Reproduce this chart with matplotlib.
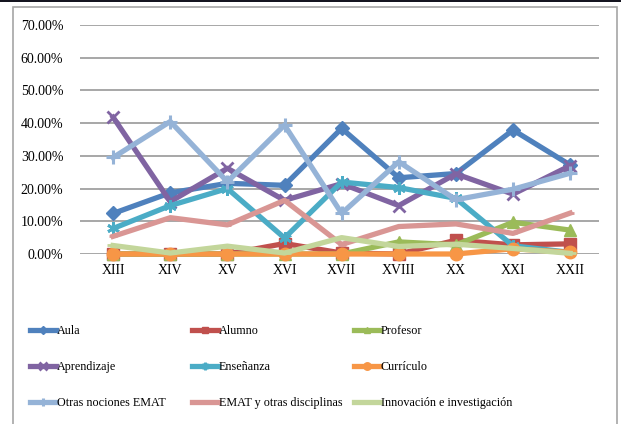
import matplotlib
matplotlib.use("Agg")
import matplotlib.pyplot as plt
from matplotlib.patches import Rectangle
from matplotlib.ticker import FuncFormatter

categories = ["XIII", "XIV", "XV", "XVI", "XVII", "XVIII", "XX", "XXI", "XXII"]

aula = [12.4, 18.7, 21.6, 21.0, 38.4, 23.3, 24.6, 37.9, 27.2]
alumno = [0.0, 0.0, 0.0, 3.2, 0.3, 0.0, 4.2, 2.8, 3.1]
profesor = [0.0, 0.0, 0.0, 0.0, 0.0, 3.7, 2.8, 9.7, 7.3]
aprendizaje = [41.8, 16.0, 26.2, 16.4, 21.5, 14.8, 24.5, 18.3, 27.0]
ensenanza = [7.8, 14.8, 20.0, 4.9, 22.0, 20.3, 17.0, 2.5, 0.5]
curriculo = [0.0, 0.0, 0.0, 0.0, 0.0, 0.0, 0.0, 1.6, 0.5]
otras_nociones = [29.5, 40.5, 22.1, 39.4, 12.4, 28.2, 16.6, 19.8, 24.7]
emat_otras = [5.4, 11.1, 8.9, 16.4, 2.9, 8.4, 9.2, 6.3, 12.5]
innovacion = [2.6, 0.3, 2.4, 0.3, 5.0, 2.3, 3.0, 1.7, 0.2]

series = [
    ("Aula", aula),
    ("Alumno", alumno),
    ("Profesor", profesor),
    ("Aprendizaje", aprendizaje),
    ("Enseñanza", ensenanza),
    ("Currículo", curriculo),
    ("Otras nociones EMAT", otras_nociones),
    ("EMAT y otras disciplinas", emat_otras),
    ("Innovación e investigación", innovacion),
]

styles = [
    dict(color="#4F81BD", marker="D", ms=7, mew=1),
    dict(color="#C0504D", marker="s", ms=8, mew=1),
    dict(color="#9BBB59", marker="^", ms=8, mew=1),
    dict(color="#8064A2", marker="x", ms=9, mew=2),
    dict(color="#4BACC6", marker=(6, 2, 0), ms=9, mew=2),
    dict(color="#F79646", marker="o", ms=9, mew=1),
    dict(color="#95B3D7", marker="+", ms=10, mew=2.2),
    dict(color="#D99694", marker="_", ms=6, mew=2),
    dict(color="#C3D69B", marker="_", ms=8, mew=2),
]

plt.rcParams["font.family"] = ["Liberation Serif", "DejaVu Serif"]

W, H = 621, 424
fig = plt.figure(figsize=(W / 100, H / 100), dpi=100)
fig.patch.set_facecolor("white")

# outer frame and dark strip
fig.add_artist(Rectangle((13 / W, -0.05), (617 - 13) / W, 1.05 - 7 / H,
                         transform=fig.transFigure, facecolor="white",
                         edgecolor="#A6A6A6", linewidth=1.2, zorder=0))
fig.add_artist(Rectangle((0, 1 - 2 / H), 1, 2 / H, transform=fig.transFigure,
                         facecolor="#151520", edgecolor="none", zorder=1))

left, right = 80 / W, 598.7 / W
bottom, top = 1 - 254 / H, 1 - 25 / H
ax = fig.add_axes([left, bottom, right - left, top - bottom])
ax.set_facecolor("none")

x = list(range(len(categories)))
handles = []
for (name, vals), st in zip(series, styles):
    yv = [v / 100 for v in vals]
    (h,) = ax.plot(x, yv, color=st["color"], linewidth=3.8, marker=st["marker"],
                   markersize=st["ms"], markeredgewidth=st["mew"],
                   markerfacecolor=st["color"], markeredgecolor=st["color"],
                   label=name, clip_on=False, zorder=3)
    handles.append(h)

ax.set_ylim(0, 0.70)
ax.set_yticks([i / 10 for i in range(8)])
ax.yaxis.set_major_formatter(FuncFormatter(lambda v, p: f"{v * 100:.2f}%"))
ax.set_xlim(-0.58, len(categories) - 0.5)
ax.set_xticks(x)
ax.set_xticklabels(categories)
ax.tick_params(axis="both", length=0, labelsize=10, colors="black")
ax.tick_params(axis="y", pad=12)
ax.tick_params(axis="x", pad=7)
ax.grid(axis="y", color="#A0A0A0", linewidth=1.3, zorder=0)
ax.set_axisbelow(True)
for s in ax.spines.values():
    s.set_visible(False)

# legend: 3 columns x 3 rows, placed individually
col_x = [30, 192, 354]
row_y = [331, 367, 403]
for i, h in enumerate(handles):
    r, c = divmod(i, 3)
    fig.legend(handles=[h], labels=[h.get_label()], loc="center left",
               bbox_to_anchor=(col_x[c] / W, 1 - row_y[r] / H),
               frameon=False, borderpad=0, borderaxespad=0,
               handlelength=2.15, handletextpad=0.08, fontsize=8.7,
               markerscale=0.6)

fig.savefig("out.png", dpi=100)
